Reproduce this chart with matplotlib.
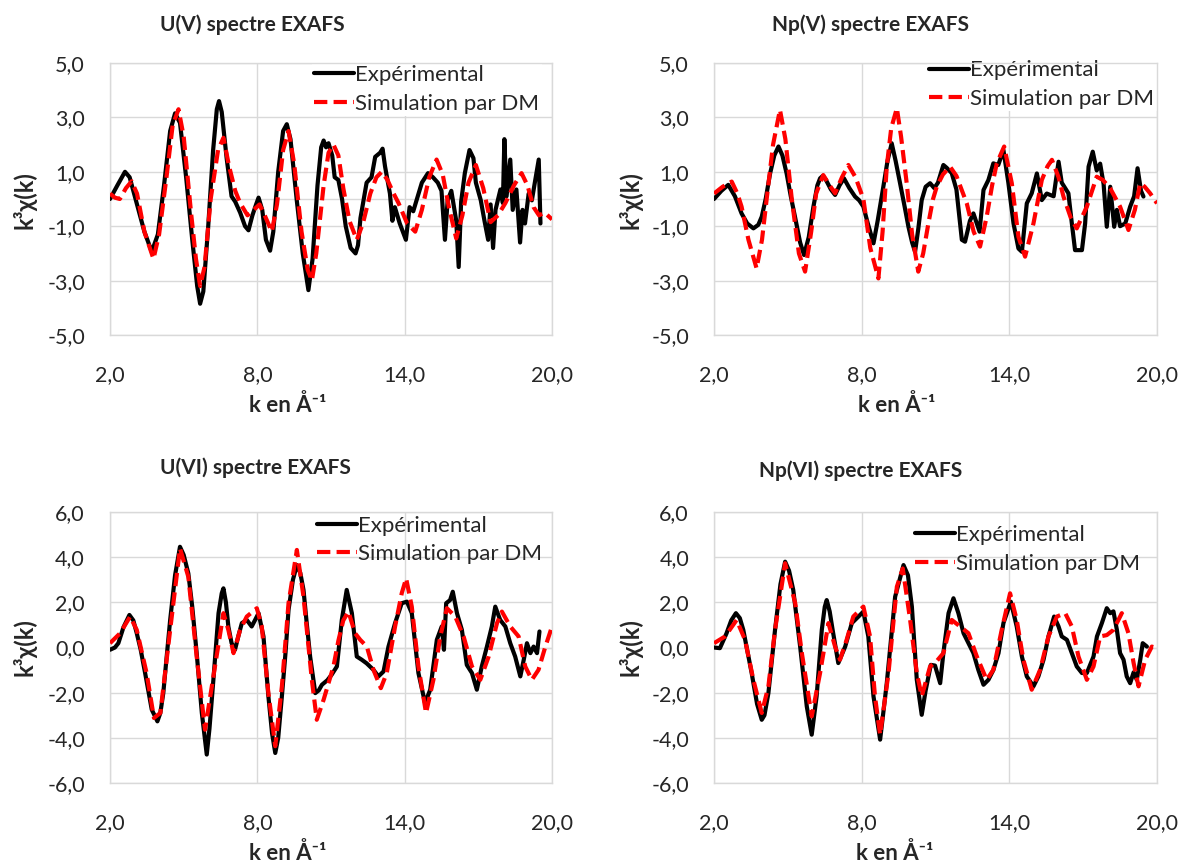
import matplotlib
matplotlib.use("Agg")
import matplotlib.pyplot as plt
from matplotlib.ticker import FuncFormatter

plt.rcParams['font.family'] = ['Lato', 'DejaVu Sans']

W, H = 1189, 866

# U(V) - experimental / simulation (k, k3chi)
uv_exp_k = [2.0, 2.3, 2.61, 2.8, 3.1, 3.4, 3.7, 3.95, 4.2, 4.45, 4.65, 4.85, 5.1, 5.35, 5.55, 5.67, 5.8, 6.0,
            6.2, 6.35, 6.44, 6.55, 6.75, 6.95, 7.1, 7.3, 7.5, 7.64, 7.8, 7.95, 8.05, 8.2, 8.35, 8.52, 8.65,
            8.85, 9.05, 9.2, 9.35, 9.6, 9.85, 10.08, 10.25, 10.45, 10.6, 10.7, 10.8, 10.9, 11.05, 11.15, 11.3,
            11.45, 11.6, 11.8, 12.0, 12.1, 12.2, 12.45, 12.65, 12.8, 13.0, 13.1, 13.2, 13.4, 13.5, 13.6, 13.8,
            14.05, 14.2, 14.35, 14.7, 14.95, 15.15, 15.35, 15.5, 15.64, 15.75, 15.9, 16.1, 16.2, 16.3, 16.45,
            16.64, 16.8, 16.9, 17.1, 17.25, 17.4, 17.5, 17.6, 17.7, 17.9, 18.0, 18.06, 18.15, 18.3, 18.4,
            18.55, 18.7, 18.8, 18.9, 19.05, 19.18, 19.3, 19.46, 19.53]
uv_exp_y = [0.0, 0.5, 1.0, 0.8, -0.2, -1.2, -1.94, -1.3, 0.5, 2.5, 3.15, 2.8, 0.8, -1.5, -3.2, -3.85, -3.4, -1.0,
            1.8, 3.3, 3.6, 3.2, 1.5, 0.1, -0.1, -0.5, -1.0, -1.15, -0.6, -0.2, 0.05, -0.4, -1.5, -1.9, -1.2,
            1.0, 2.5, 2.75, 2.2, 0.0, -2.0, -3.35, -2.2, 0.5, 1.9, 2.15, 1.9, 2.05, 1.6, 0.8, 0.7,
            0.0, -1.0, -1.8, -2.0, -1.7, -0.7, 0.6, 0.8, 1.55, 1.7, 1.85, 1.2, 0.2, -0.8, -0.3, -0.9,
            -1.5, -0.3, -0.45, 0.6, 0.95, 0.8, 0.6, 0.3, -1.5, -0.05, 0.3, -0.8, -2.5, -0.1, 0.95,
            1.8, 1.5, 0.6, -0.05, -0.8, -1.5, -0.2, -1.8, -0.4, 0.35, -0.15, 2.2, 0.1, 1.45, -0.4,
            0.35, -1.6, -0.4, -0.9, 0.2, -0.05, 0.6, 1.45, -0.9]
uv_sim_k = [2.0, 2.2, 2.4, 2.65, 2.88, 3.1, 3.4, 3.77, 4.0, 4.3, 4.55, 4.79, 5.0, 5.3, 5.5, 5.67, 5.85, 6.1,
            6.4, 6.62, 6.85, 7.1, 7.3, 7.6, 7.85, 8.09, 8.3, 8.59, 8.8, 9.05, 9.27, 9.5, 9.8, 10.05, 10.22,
            10.4, 10.7, 10.9, 11.1, 11.3, 11.5, 11.75, 12.05, 12.3, 12.6, 12.85, 13.07, 13.3, 13.55, 13.75,
            14.1, 14.43, 14.7, 15.0, 15.3, 15.55, 15.8, 16.1, 16.35, 16.6, 16.9, 17.2, 17.5, 17.8, 18.1,
            18.45, 18.76, 19.0, 19.25, 19.47, 19.7, 20.0]
uv_sim_y = [0.2, 0.05, 0.0, 0.4, 0.65, 0.2, -1.2, -2.2, -1.3, 0.8, 2.7, 3.3, 2.3, -0.5, -2.2, -3.2, -2.5, 0.0,
            1.8, 2.25, 1.2, 0.3, -0.15, -0.6, -0.4, -0.2, -0.6, -1.2, -0.2, 1.8, 2.5, 1.3, -1.2, -2.6, -3.0,
            -2.0, 0.5, 1.7, 2.0, 1.6, 0.4, -0.8, -1.5, -0.9, 0.2, 0.8, 1.0, 0.7, 0.2, -0.15,
            -0.9, -1.2, -0.4, 0.8, 1.45, 0.9, -0.3, -1.45, -0.6, 0.6, 1.25, 0.4, -0.85, -0.6, -0.15,
            0.5, 0.95, 0.5, -0.3, -0.6, -0.5, -0.75]

# Np(V)
npv_exp_k = [2.0, 2.3, 2.58, 2.85, 3.12, 3.35, 3.6, 3.8, 3.94, 4.1, 4.28, 4.45, 4.62, 4.78, 4.95, 5.12, 5.29,
             5.5, 5.66, 5.85, 6.04, 6.2, 6.31, 6.42, 6.55, 6.75, 6.92, 7.1, 7.28, 7.5, 7.73, 7.9, 8.07, 8.25,
             8.48, 8.65, 8.88, 9.05, 9.22, 9.38, 9.56, 9.75, 9.9, 10.05, 10.17, 10.3, 10.44, 10.6, 10.78,
             10.95, 11.1, 11.32, 11.45, 11.66, 11.85, 12.07, 12.2, 12.4, 12.54, 12.79, 12.95, 13.15, 13.35,
             13.55, 13.76, 13.96, 14.17, 14.37, 14.51, 14.71, 14.91, 15.12, 15.32, 15.52, 15.8, 16.0, 16.13,
             16.4, 16.54, 16.67, 16.95, 17.08, 17.22, 17.39, 17.55, 17.69, 17.83, 17.96, 18.1, 18.26, 18.37,
             18.5, 18.71, 18.91, 19.07, 19.21, 19.35, 19.45]
npv_exp_y = [0.0, 0.3, 0.52, 0.1, -0.53, -0.9, -1.08, -0.95, -0.65, 0.0, 0.94, 1.6, 1.93, 1.6, 0.94, 0.1, -0.65,
             -1.6, -2.06, -1.4, -0.28, 0.5, 0.76, 0.85, 0.7, 0.35, 0.15, 0.5, 0.76, 0.4, 0.09, -0.05, -0.28, -0.9,
             -1.63, -0.8, 0.45, 1.4, 2.05, 1.4, 0.58, -0.3, -1.02, -1.6, -1.94, -1.1, -0.04, 0.45, 0.58,
             0.4, 0.6, 1.25, 1.15, 0.95, 0.35, -1.5, -1.57, -0.8, -0.53, -1.2, 0.33, 0.7, 1.31,
             1.25, 1.8, 0.6, -0.9, -1.82, -1.94, -0.16, 0.21, 0.94, -0.04, 0.2, 0.1, 1.37, 0.6,
             0.21, -0.9, -1.88, -1.88, -0.9, 1.19, 1.74, 1.05, 1.3, 0.55, -1.02, 0.45, -1.02, -0.4,
             -1.0, -0.9, -0.28, 0.1, 1.13, 0.3, 0.09]
npv_sim_k = [2.0, 2.35, 2.72, 2.95, 3.12, 3.4, 3.73, 3.95, 4.14, 4.4, 4.68, 4.9, 5.16, 5.45, 5.7, 5.95, 6.15,
             6.44, 6.7, 6.92, 7.2, 7.46, 7.75, 8.07, 8.35, 8.68, 8.85, 9.02, 9.2, 9.43, 9.6, 9.83, 10.05, 10.3,
             10.5, 10.71, 10.9, 11.05, 11.3, 11.59, 11.85, 12.27, 12.55, 12.81, 13.08, 13.3, 13.49, 13.79,
             14.1, 14.37, 14.64, 14.98, 15.32, 15.55, 15.73, 16.0, 16.2, 16.5, 16.74, 17.15, 17.55, 17.8,
             18.1, 18.5, 18.84, 19.1, 19.32, 19.5, 19.72, 20.0]
npv_sim_y = [0.2, 0.45, 0.64, 0.2, -0.28, -1.5, -2.55, -1.5, 0.0, 2.0, 3.28, 2.2, 0.0, -2.0, -2.67, -1.2, 0.2,
             0.88, 0.5, 0.21, 0.8, 1.25, 0.8, 0.0, -1.8, -2.92, -1.2, 1.19, 2.6, 3.34, 2.3, 0.58, -1.3, -2.67,
             -2.0, -0.9, 0.0, 0.45, 0.9, 1.19, 0.85, -0.16, -1.2, -1.75, -0.65, 0.5, 1.31, 1.93,
             0.58, -1.39, -2.12, -0.9, 0.7, 1.2, 1.44, 0.8, 0.09, -0.7, -1.08, -0.28, 0.82, 0.7,
             0.39, -0.28, -1.14, -0.4, 0.58, 0.45, 0.21, -0.16]

# U(VI)
uvi_exp_k = [2.0, 2.2, 2.34, 2.55, 2.79, 2.95, 3.09, 3.25, 3.43, 3.7, 3.93, 4.05, 4.17, 4.3, 4.45, 4.65, 4.85,
             5.0, 5.19, 5.35, 5.53, 5.74, 5.94, 6.05, 6.21, 6.42, 6.55, 6.62, 6.72, 6.82, 6.95, 7.09, 7.25,
             7.37, 7.57, 7.77, 7.9, 8.05, 8.25, 8.45, 8.6, 8.73, 8.85, 9.0, 9.15, 9.27, 9.45, 9.61, 9.75,
             9.88, 10.0, 10.15, 10.36, 10.5, 10.63, 10.85, 11.03, 11.24, 11.44, 11.64, 11.85, 12.05, 12.25,
             12.45, 12.73, 12.93, 13.14, 13.34, 13.61, 13.88, 14.09, 14.29, 14.56, 14.83, 15.04, 15.31,
             15.51, 15.6, 15.69, 15.85, 15.96, 16.13, 16.33, 16.53, 16.74, 16.94, 17.14, 17.35, 17.55,
             17.69, 17.89, 18.1, 18.3, 18.5, 18.71, 18.85, 18.98, 19.12, 19.25, 19.39, 19.49]
uvi_exp_y = [-0.1, 0.0, 0.19, 0.9, 1.44, 1.2, 0.63, -0.1, -1.13, -2.75, -3.27, -2.9, -2.02, -0.5, 1.22, 3.2, 4.46,
             4.1, 3.28, 1.8, -0.25, -2.9, -4.74, -3.6, -1.43, 1.52, 2.4, 2.62, 2.0, 0.93, 0.2, -0.1, 0.6,
             1.08, 1.22, 0.93, 1.2, 1.52, 0.49, -2.16, -3.8, -4.67, -4.0, -2.16, -0.2, 1.66, 3.0, 3.65, 3.3,
             2.55, 1.2, -0.4, -2.02, -1.9, -1.65, -1.45, -1.2, -0.84, 1.22, 2.55, 1.52, -0.4, -0.54,
             -0.7, -0.99, -1.28, -1.06, 0.04, 1.08, 1.96, 2.03, 1.52, -1.13, -2.46, -1.87, 0.34,
             0.93, -0.1, 1.96, 2.1, 2.47, 1.52, 0.78, -0.77, -1.13, -1.87, -0.84, 0.04, 0.93,
             1.81, 1.22, 0.93, 0.19, -0.4, -1.28, -0.54, 0.19, -0.25, 0.04, -0.25, 0.71]
uvi_sim_k = [2.0, 2.41, 2.82, 3.09, 3.49, 3.79, 4.05, 4.45, 4.85, 5.19, 5.53, 5.87, 6.21, 6.62, 6.82, 7.03,
             7.3, 7.57, 7.98, 8.18, 8.45, 8.73, 9.0, 9.27, 9.61, 9.88, 10.22, 10.42, 10.7, 11.1, 11.3, 11.5,
             11.71, 11.98, 12.19, 12.46, 12.73, 13.03, 13.27, 13.61, 13.88, 14.06, 14.29, 14.56, 14.87,
             15.17, 15.45, 15.72, 16.06, 16.4, 16.74, 17.08, 17.42, 17.76, 17.96, 18.3, 18.64, 18.91,
             19.18, 19.45, 19.73, 20.0]
uvi_sim_y = [0.19, 0.63, 1.37, 0.78, -1.13, -3.12, -2.9, 0.78, 4.39, 3.13, -0.4, -3.64, -1.28, 1.52, 0.78, -0.25,
             0.78, 1.37, 1.74, 0.93, -2.02, -4.37, -1.72, 1.96, 4.32, 2.25, -1.43, -3.2, -2.31, -0.84, 0.3, 1.2,
             1.59, 0.63, 0.34, 0.04, -0.99, -1.8, -1.13, 0.93, 2.4, 3.06, 1.81, -0.84, -2.9,
             -1.43, 0.49, 1.74, 1.37, 0.49, -0.84, -1.43, -0.4, 1.08, 1.59, 0.93, 0.49, -0.84,
             -1.43, -0.99, 0.04, 0.93]

# Np(VI)
npvi_exp_k = [2.0, 2.24, 2.51, 2.7, 2.89, 3.05, 3.19, 3.53, 3.75, 3.94, 4.05, 4.21, 4.48, 4.7, 4.89, 5.05, 5.22,
              5.5, 5.77, 5.97, 6.17, 6.38, 6.5, 6.58, 6.7, 6.82, 7.05, 7.33, 7.6, 7.87, 8.07, 8.27, 8.48, 8.75,
              9.02, 9.36, 9.7, 9.88, 10.04, 10.24, 10.44, 10.6, 10.81, 10.98, 11.19, 11.32, 11.53, 11.73,
              11.93, 12.14, 12.34, 12.54, 12.74, 12.95, 13.15, 13.35, 13.56, 13.76, 14.06, 14.3, 14.51,
              14.71, 14.98, 15.18, 15.39, 15.59, 15.82, 16.0, 16.13, 16.34, 16.54, 16.74, 16.95, 17.15,
              17.42, 17.56, 17.76, 17.96, 18.1, 18.23, 18.37, 18.5, 18.64, 18.77, 18.91, 19.05, 19.18,
              19.32, 19.42, 19.59]
npvi_exp_y = [0.0, -0.03, 0.63, 1.2, 1.52, 1.3, 0.78, -1.13, -2.5, -3.2, -3.0, -2.02, 0.78, 2.8, 3.8, 3.4, 2.55,
              0.04, -2.61, -3.86, -2.16, 0.78, 1.8, 2.1, 1.6, 0.78, -0.69, 0.04, 1.08, 1.37, 1.59, 0.49, -2.16, -4.08,
              -1.58, 2.25, 3.65, 3.2, 1.81, -1.43, -2.98, -1.9, -0.77, -0.8, -1.58, -0.25, 1.52, 2.18,
              1.52, 0.63, 0.19, -0.25, -0.99, -1.65, -1.43, -1.0, -0.25, 1.08, 2.03, 0.93, -0.4,
              -1.28, -1.72, -1.28, -0.54, 0.49, 1.37, 0.93, 0.49, 0.34, -0.25, -0.84, -1.13, -1.13,
              -0.4, 0.49, 1.08, 1.74, 1.52, 1.6, 0.78, -0.25, -0.54, -1.28, -1.58, -1.1, -1.43,
              -0.54, 0.19, 0.04]
npvi_sim_k = [2.0, 2.45, 2.92, 3.26, 3.6, 3.94, 4.21, 4.48, 4.89, 5.3, 5.57, 5.97, 6.31, 6.65, 6.92, 7.12, 7.39,
              7.66, 8.07, 8.34, 8.54, 8.75, 9.09, 9.43, 9.67, 9.97, 10.24, 10.44, 10.78, 11.05, 11.32, 11.66,
              12.0, 12.34, 12.68, 13.08, 13.35, 13.69, 14.03, 14.3, 14.57, 14.91, 15.25, 15.59, 15.93, 16.27,
              16.54, 16.81, 17.15, 17.42, 17.69, 17.96, 18.23, 18.57, 18.84, 19.05, 19.25, 19.52, 19.79, 20.0]
npvi_sim_y = [0.19, 0.49, 1.22, 0.34, -1.43, -2.9, -1.72, 0.78, 3.73, 1.96, -0.25, -3.05, -1.13, 1.08, 0.04, -0.54,
              0.34, 1.37, 1.81, 0.49, -2.16, -3.86, -1.13, 2.69, 3.5, 1.22, -1.13, -2.16, -0.84, -0.6, -0.25, 1.22,
              0.93, 0.63, -0.4, -1.43, -0.99, 0.78, 2.4, 1.22, -0.54, -1.87, -0.99, 0.49, 1.37, 1.52,
              0.93, -0.4, -1.43, -0.84, 0.49, 0.55, 0.78, 1.52, 0.63, -0.69, -1.72, -0.54, 0.04, -0.03]

panels = [
    # title, exp, sim, ylim, yticks, axes box (px), title pos, xlabel pos, ylabel pos, legend anchor, legend bg
    ("U(V) spectre EXAFS", (uv_exp_k, uv_exp_y), (uv_sim_k, uv_sim_y), 5, [5, 3, 1, -1, -3, -5],
     (110, 63, 552, 335), (252, 25), (288, 405), (25, 200), (0.457, 1.0), True),
    ("Np(V) spectre EXAFS", (npv_exp_k, npv_exp_y), (npv_sim_k, npv_sim_y), 5, [5, 3, 1, -1, -3, -5],
     (714, 63, 1157, 335), (870, 25), (897, 405), (630, 200), (0.481, 1.018), True),
    ("U(VI) spectre EXAFS", (uvi_exp_k, uvi_exp_y), (uvi_sim_k, uvi_sim_y), 6, [6, 4, 2, 0, -2, -4, -6],
     (110, 512, 552, 783), (255, 468), (288, 853), (25, 647), (0.464, 0.995), False),
    ("Np(VI) spectre EXAFS", (npvi_exp_k, npvi_exp_y), (npvi_sim_k, npvi_sim_y), 6, [6, 4, 2, 0, -2, -4, -6],
     (714, 512, 1157, 783), (861, 471), (895, 853), (630, 647), (0.449, 0.96), False),
]

fig = plt.figure(figsize=(W / 100, H / 100), dpi=100)
grid_c = "#d9d9d9"
txt_c = "#262626"
comma = FuncFormatter(lambda v, p: f"{v:.1f}".replace(".", ","))

for title, exp, sim, ymax, yt, box, tpos, xlpos, ylpos, lanchor, lbg in panels:
    x0, y0, x1, y1 = box
    ax = fig.add_axes([x0 / W, 1 - y1 / H, (x1 - x0) / W, (y1 - y0) / H])
    ax.set_xlim(2, 20)
    ax.set_ylim(-ymax, ymax)
    ax.set_xticks([2, 8, 14, 20])
    ax.set_yticks(yt)
    ax.xaxis.set_major_formatter(comma)
    ax.yaxis.set_major_formatter(comma)
    ax.grid(True, color=grid_c, lw=1.0)
    ax.set_axisbelow(True)
    ax.axhline(0, color=grid_c, lw=1.0, zorder=0.5)
    for s in ax.spines.values():
        s.set_color(grid_c)
        s.set_linewidth(1.0)
    ax.tick_params(length=0, labelsize=15.5, colors=txt_c)
    ax.tick_params(axis="x", pad=22)
    ax.tick_params(axis="y", pad=18)

    ax.plot(exp[0], exp[1], color="black", lw=3.0, solid_joinstyle="round",
            solid_capstyle="round", label="Expérimental", zorder=3)
    ax.plot(sim[0], sim[1], color="#ff0000", lw=3.0, ls=(0, (3.2, 1.5)),
            dash_joinstyle="round", label="Simulation par DM", zorder=4)

    leg = ax.legend(loc="upper left", bbox_to_anchor=lanchor, fontsize=16, frameon=lbg,
                    handlelength=1.8, handletextpad=0.05, labelspacing=0.38,
                    borderpad=0.1, borderaxespad=0)
    leg.set_zorder(2.4)  # under the plot frame, over the grid
    if lbg:
        leg.get_frame().set_facecolor("white")
        leg.get_frame().set_edgecolor("none")
        leg.get_frame().set_alpha(1)
        leg.get_frame().set_boxstyle("square", pad=0)
    for t in leg.get_texts():
        t.set_color(txt_c)

    fig.text(tpos[0] / W, 1 - tpos[1] / H, title, fontsize=15, fontweight="bold",
             ha="center", va="center", color=txt_c)
    fig.text(xlpos[0] / W, 1 - xlpos[1] / H, "k en Å⁻¹", fontsize=16, fontweight="bold",
             ha="center", va="center", color=txt_c)
    fig.text(ylpos[0] / W, 1 - ylpos[1] / H, "k³χ(k)", fontsize=17, fontweight="bold",
             ha="center", va="center", rotation=90, color=txt_c)

fig.savefig("out.png", dpi=100, facecolor="white")
